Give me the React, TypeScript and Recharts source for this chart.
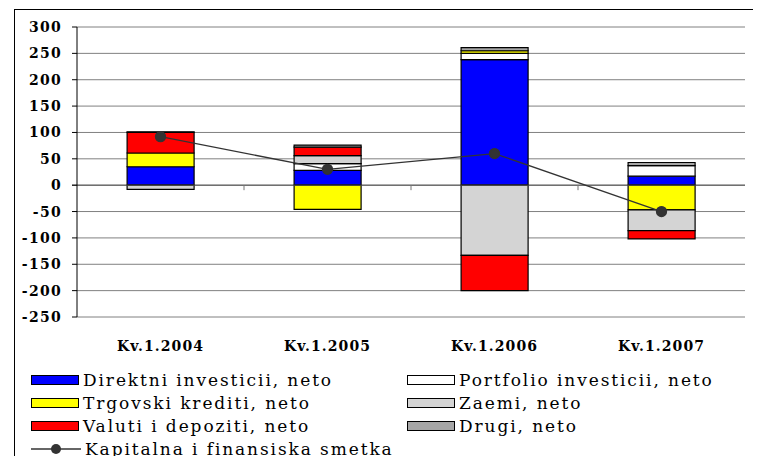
import React from 'react'
import {
  ComposedChart,
  Bar,
  Line,
  XAxis,
  YAxis,
  CartesianGrid,
  ReferenceLine,
} from 'recharts'

const categories = ['Kv.1.2004', 'Kv.1.2005', 'Kv.1.2006', 'Kv.1.2007']
const direktni = [35, 28, 238, 17]
const portfolio = [0, 13, 12, 20]
const trgovski = [26, -46, 5, -47]
const zaemi = [-8, 15, -133, -39]
const valuti = [39, 16, -67, -16]
const drugi = [1, 4, 6, 6]
const kapitalna = [92, 30, 60, -50]
const yTicks = [-250, -200, -150, -100, -50, 0, 50, 100, 150, 200, 250, 300]

const barSeries = [
  { key: 'direktni', name: 'Direktni investicii, neto', fill: '#0000FF' },
  { key: 'portfolio', name: 'Portfolio investicii, neto', fill: '#FFFFFF' },
  { key: 'trgovski', name: 'Trgovski krediti, neto', fill: '#FFFF00' },
  { key: 'zaemi', name: 'Zaemi, neto', fill: '#D4D4D4' },
  { key: 'valuti', name: 'Valuti i depoziti, neto', fill: '#FF0000' },
  { key: 'drugi', name: 'Drugi, neto', fill: '#A6A6A6' },
]
const lineName = 'Kapitalna i finansiska smetka'

const data = categories.map((c, i) => ({
  name: c,
  direktni: direktni[i],
  portfolio: portfolio[i],
  trgovski: trgovski[i],
  zaemi: zaemi[i],
  valuti: valuti[i],
  drugi: drugi[i],
  kapitalna: kapitalna[i],
}))

const serif = 'DejaVu Serif'

// zero line with small tick marks between the categories
function ZeroLine(props: any) {
  const { x1, y1, x2, y2 } = props
  const n = categories.length
  const step = (x2 - x1) / n
  return (
    <g>
      <line x1={x1 - 5} y1={y1} x2={x2} y2={y2} stroke="#555" strokeWidth={1} />
      {categories.slice(1).map((c, i) => (
        <line
          key={c}
          x1={x1 + step * (i + 1)}
          x2={x1 + step * (i + 1)}
          y1={y1}
          y2={y1 + 5}
          stroke="#777"
        />
      ))}
    </g>
  )
}

function Swatch({ fill }: { fill: string }) {
  return (
    <span
      style={{
        display: 'inline-block',
        width: 46,
        height: 8,
        background: fill,
        border: '1.5px solid #000',
        marginRight: 4,
        verticalAlign: 'middle',
      }}
    />
  )
}

function LineSwatch() {
  return (
    <svg width={50} height={12} style={{ marginRight: 4, verticalAlign: 'middle' }}>
      <line x1={0} y1={6} x2={50} y2={6} stroke="#333" strokeWidth={1.5} />
      <circle cx={25} cy={6} r={5} fill="#333" />
    </svg>
  )
}

const legendText: React.CSSProperties = {
  fontFamily: serif,
  fontSize: 17,
  letterSpacing: 1.9,
  color: '#000',
  verticalAlign: 'middle',
}

export default function App() {
  const rows = [0, 1, 2]
  return (
    <div
      style={{
        position: 'relative',
        width: 761,
        height: 464,
        overflow: 'hidden',
        margin: -8,
        background: '#fff',
      }}
    >
      <div
        style={{
          position: 'absolute',
          left: 14,
          top: 9,
          width: 800,
          height: 500,
          border: '1px solid #000',
        }}
      />
      <div style={{ position: 'absolute', left: 0, top: 0 }}>
        <ComposedChart
          width={761}
          height={464}
          data={data}
          stackOffset="sign"
          barCategoryGap="30%"
          margin={{ top: 27, right: 16, left: 0, bottom: 117 }}
        >
          <CartesianGrid vertical={false} stroke="#808080" />
          <XAxis
            dataKey="name"
            axisLine={false}
            tickLine={false}
            tickSize={0}
            tickMargin={24}
            height={30}
            tick={{
              fontFamily: serif,
              fontWeight: 'bold',
              fontSize: 14,
              fill: '#000',
              letterSpacing: 1.1,
            }}
          />
          <YAxis
            width={77}
            domain={[-250, 300]}
            ticks={yTicks}
            interval={0}
            axisLine={{ stroke: '#000' }}
            tickLine={{ stroke: '#000' }}
            tickSize={5}
            tickMargin={10}
            tick={{
              fontFamily: serif,
              fontWeight: 'bold',
              fontSize: 14,
              fill: '#000',
              letterSpacing: 1.3,
            }}
          />
          <YAxis
            yAxisId="frame"
            orientation="right"
            width={0}
            domain={[-250, 300]}
            tick={false}
            tickLine={false}
            axisLine={{ stroke: '#808080' }}
          />
          <ReferenceLine y={0} shape={ZeroLine} />
          {barSeries.map((s) => (
            <Bar
              key={s.key}
              dataKey={s.key}
              name={s.name}
              stackId="a"
              fill={s.fill}
              stroke="#000"
              strokeWidth={1.2}
              isAnimationActive={false}
            />
          ))}
          <Line
            dataKey="kapitalna"
            name={lineName}
            stroke="#333"
            strokeWidth={1.3}
            dot={{ r: 5, fill: '#333', stroke: '#333' }}
            isAnimationActive={false}
          />
        </ComposedChart>
      </div>
      <div style={{ position: 'absolute', left: 31, top: 370 }}>
        {rows.map((r) => (
          <div key={r} style={{ height: 23, whiteSpace: 'nowrap', position: 'relative' }}>
            <span style={{ position: 'absolute', left: 0 }}>
              <Swatch fill={barSeries[r * 2].fill} />
              <span style={legendText}>{barSeries[r * 2].name}</span>
            </span>
            <span style={{ position: 'absolute', left: 376 }}>
              <Swatch fill={barSeries[r * 2 + 1].fill} />
              <span style={legendText}>{barSeries[r * 2 + 1].name}</span>
            </span>
          </div>
        ))}
        <div style={{ height: 23, whiteSpace: 'nowrap' }}>
          <LineSwatch />
          <span style={legendText}>{lineName}</span>
        </div>
      </div>
    </div>
  )
}
